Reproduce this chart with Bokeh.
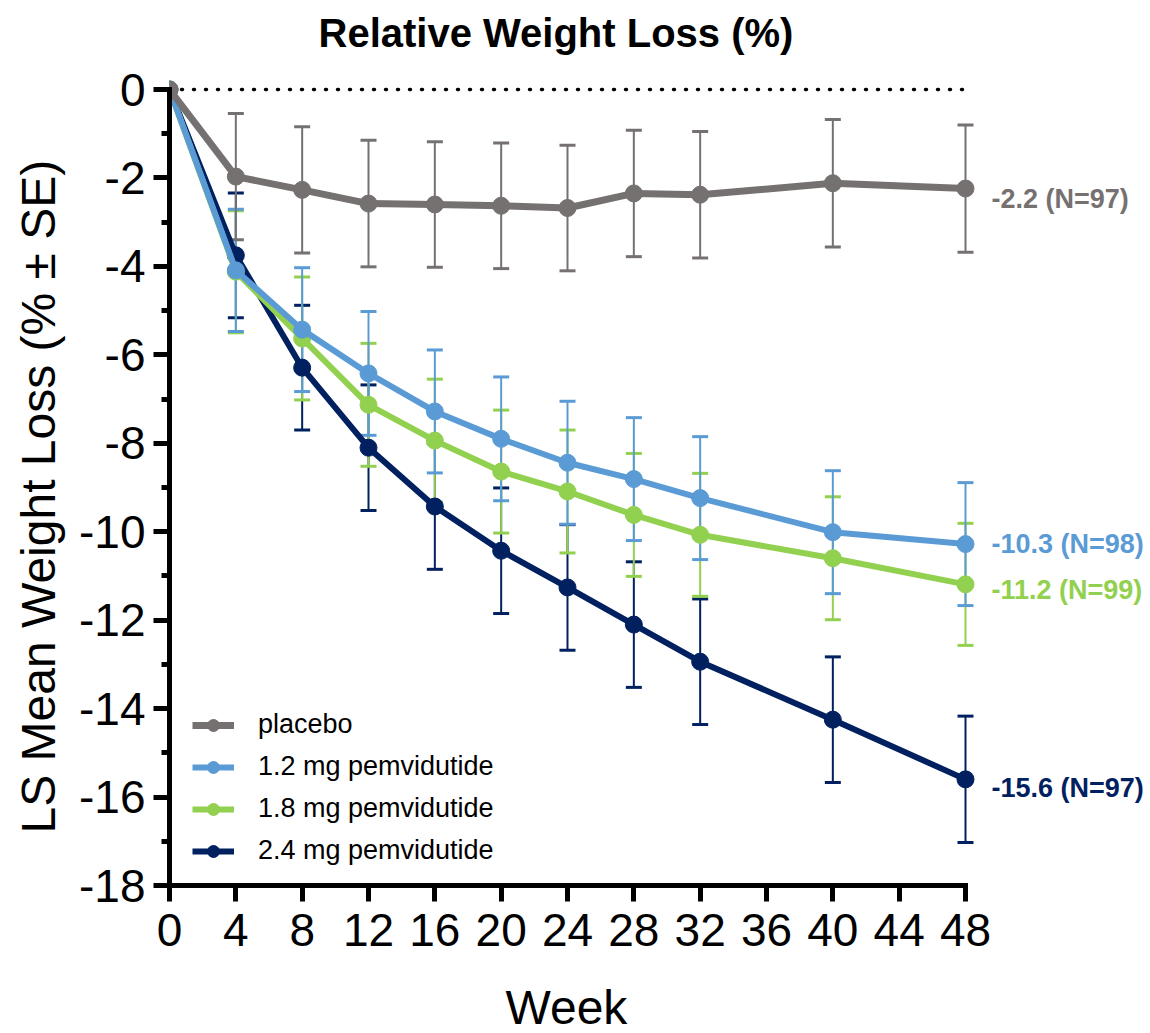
from bokeh.plotting import figure
from bokeh.models import (Range1d, SingleIntervalTicker, ColumnDataSource, Whisker, TeeHead,
                          Label, Legend, LegendItem, Title, CustomJSTickFormatter)
from bokeh.embed import file_html
from bokeh.resources import INLINE

# ---------------- data ----------------
weeks = [0, 4, 8, 12, 16, 20, 24, 28, 32, 40, 48]

placebo = [0, -1.97, -2.27, -2.58, -2.60, -2.63, -2.68, -2.35, -2.38, -2.12, -2.24]
pem_12 = [0, -4.09, -5.43, -6.42, -7.28, -7.90, -8.44, -8.81, -9.24, -10.01, -10.28]
pem_18 = [0, -4.12, -5.63, -7.13, -7.94, -8.64, -9.09, -9.62, -10.07, -10.60, -11.19]
pem_24 = [0, -3.75, -6.29, -8.10, -9.43, -10.43, -11.26, -12.10, -12.94, -14.25, -15.60]

se_placebo = [0, 1.43, 1.43, 1.43, 1.42, 1.42, 1.42, 1.43, 1.43, 1.44, 1.44]
se_12 = [0, 1.38, 1.40, 1.40, 1.39, 1.40, 1.39, 1.39, 1.39, 1.39, 1.39]
se_18 = [0, 1.38, 1.39, 1.39, 1.39, 1.39, 1.39, 1.39, 1.39, 1.39, 1.38]
se_24 = [0, 1.41, 1.41, 1.42, 1.42, 1.42, 1.42, 1.42, 1.42, 1.42, 1.43]

series_names = ["placebo", "1.2 mg pemvidutide", "1.8 mg pemvidutide", "2.4 mg pemvidutide"]
end_labels = ["-2.2 (N=97)", "-10.3 (N=98)", "-11.2 (N=99)", "-15.6 (N=97)"]
title_text = "Relative Weight Loss (%)"
x_title = "Week"
y_title = "LS Mean Weight Loss (% \u00b1 SE)"

x_ticks_interval = 4
y_ticks_interval = 2

# ---------------- styles ----------------
colors = ["#767171", "#5B9BD5", "#92D050", "#002060"]
line_widths = [7, 6, 6, 6]
label_dy = [-10, 0, -6, -9]   # pixel nudges of end labels
FONT = "Liberation Sans"

PX_PER_WEEK = 796 / 48.0
PX_PER_UNIT = 796 / 18.0
frame_w = 981
frame_h = 818

p = figure(frame_width=frame_w, frame_height=frame_h,
           x_range=Range1d(0, frame_w / PX_PER_WEEK),
           y_range=Range1d(-18, (frame_h / PX_PER_UNIT) - 18),
           output_backend="svg", toolbar_location=None,
           min_border_left=169, min_border_right=0, min_border_top=66, min_border_bottom=149)
p.outline_line_color = None
p.xgrid.visible = False
p.ygrid.visible = False
p.background_fill_color = "white"
p.border_fill_color = "white"

fmt = CustomJSTickFormatter(code="return tick.toString();")
for ax in (p.xaxis[0], p.yaxis[0]):
    ax.axis_line_width = 5
    ax.axis_line_color = "black"
    ax.axis_line_cap = "square"
    ax.major_tick_line_width = 5
    ax.minor_tick_line_width = 5
    ax.major_tick_out = 16
    ax.major_tick_in = 0
    ax.minor_tick_out = 8
    ax.minor_tick_in = 0
    ax.major_label_text_font = FONT
    ax.major_label_text_font_size = "46px"
    ax.major_label_text_color = "black"
    ax.formatter = fmt

p.xaxis.ticker = SingleIntervalTicker(interval=x_ticks_interval, num_minor_ticks=0)
p.yaxis.ticker = SingleIntervalTicker(interval=y_ticks_interval, num_minor_ticks=2)
p.xaxis.bounds = (weeks[0], weeks[-1])
p.yaxis.bounds = (-18, 0)
p.xaxis.major_label_standoff = 12
p.yaxis.major_label_standoff = 8
# blank spacer label pushes the "Week" title further down
p.xaxis.axis_label = " "
p.xaxis.axis_label_text_font_size = "1px"
p.xaxis.axis_label_standoff = 26

# zero reference line
p.line(x=[weeks[0], weeks[-1]], y=[0, 0], line_color="black", line_width=3.5,
       line_dash="1 11", line_cap="round")

all_means = [placebo, pem_12, pem_18, pem_24]
all_se = [se_placebo, se_12, se_18, se_24]

renderers = {}
for i in [3, 2, 1, 0]:
    m = all_means[i]
    s = all_se[i]
    lower = [a - b for a, b in zip(m, s)]
    upper = [a + b for a, b in zip(m, s)]
    src = ColumnDataSource(dict(x=weeks, y=m))
    wsrc = ColumnDataSource(dict(x=weeks[1:], lower=lower[1:], upper=upper[1:]))
    w = Whisker(base="x", lower="lower", upper="upper", source=wsrc,
                line_color=colors[i], line_width=2,
                upper_head=TeeHead(size=16, line_color=colors[i], line_width=3),
                lower_head=TeeHead(size=16, line_color=colors[i], line_width=3))
    p.add_layout(w)
    lr = p.line("x", "y", source=src, line_color=colors[i], line_width=line_widths[i])
    sr = p.scatter("x", "y", source=src, size=17, marker="circle",
                   fill_color=colors[i], line_color=colors[i])
    renderers[i] = [lr, sr]
    p.add_layout(Label(x=weeks[-1], y=m[-1], x_offset=26, y_offset=label_dy[i],
                       text=end_labels[i], text_font=FONT, text_font_size="27px",
                       text_font_style="bold", text_color=colors[i],
                       text_baseline="middle", text_align="left"))

legend = Legend(items=[LegendItem(label=series_names[i], renderers=renderers[i]) for i in range(4)],
                location=(23, 19), glyph_width=42, glyph_height=30, label_height=30,
                spacing=11, label_standoff=24, padding=0, margin=0,
                label_text_font=FONT, label_text_font_size="27px",
                label_text_color="black", background_fill_alpha=0,
                border_line_color=None)
p.add_layout(legend)

# title and axis titles
p.add_layout(Title(text=title_text, align="left", offset=149, standoff=21,
                   vertical_align="top",
                   text_font=FONT, text_font_size="40px", text_font_style="bold",
                   text_color="black"), "above")
p.add_layout(Title(text=x_title, align="left", offset=336, standoff=0,
                   vertical_align="bottom",
                   text_font=FONT, text_font_size="48px", text_font_style="normal",
                   text_color="black"), "below")
p.add_layout(Title(text=y_title, align="left", offset=52, standoff=20,
                   vertical_align="top",
                   text_font=FONT, text_font_size="48px", text_font_style="normal",
                   text_color="black"), "left")

open("out.html", "w").write(file_html(p, INLINE))
